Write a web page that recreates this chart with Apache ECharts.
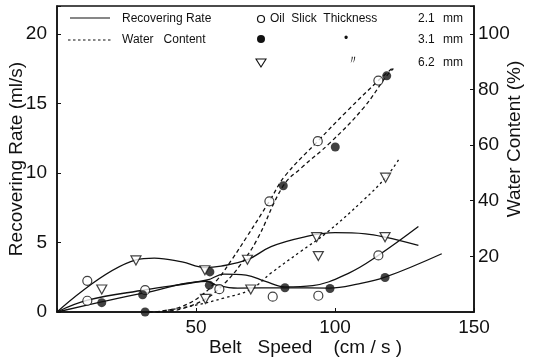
<!DOCTYPE html>
<html>
<head>
<meta charset="utf-8">
<script src="https://cdn.jsdelivr.net/npm/echarts@6/dist/echarts.min.js"></script>
<style>
  html, body { margin: 0; padding: 0; background: #fff; }
  #chart { width: 534px; height: 362px; }
</style>
</head>
<body>
<div id="chart"></div>
<script>
// belt speed (cm/s) vs recovering rate (ml/s) -- solid curves
const rate21Curve = [[0,0],[11,0.85],[32,1.6],[54,2.3],[60,2.72],[68,2.65],[75,2.2],[82,1.8],[92,1.9],[105,2.8],[115.6,4.07],[130,6.14]]
const rate31Curve = [[0,0],[16,0.72],[31,1.35],[54,2.2],[57,1.95],[65,1.72],[82,1.74],[98,1.72],[108,2.0],[118,2.5],[138.4,4.19]]
const rate62Curve = [[0,0],[28.4,3.75],[35,3.88],[45,3.6],[53,3.2],[59,3.3],[68.5,3.76],[77,4.7],[88,5.35],[100,5.7],[111,5.62],[118,5.38],[130,4.79]]

// water content (%) -- dashed curves
const water21Curve = [[33,0],[38,0.4],[45,2],[52,6],[58,12],[63,19],[68.2,26.9],[76.4,39.8],[82,48.9],[93.8,61.4],[104.2,72.1],[115.6,83.2],[120.4,87.4]]
const water31Curve = [[33,0],[40,0.3],[46,1.5],[54,5],[60,10],[66,17],[71.8,25.7],[81.4,45.4],[88,51.9],[98.2,60.8],[110.2,73.3],[118.6,84.9],[121,87.5]]
const water62Curve = [[36,0],[50,2.5],[60,5],[69.7,8.1],[77,14],[88,22],[97,28.5],[110,40],[118.2,48.3],[123.4,55.5]]

// measured points
const open21Rate = [[10.9,2.24],[10.9,0.81],[31.7,1.57],[58.4,1.64],[77.6,1.1],[94,1.17],[115.6,4.07]]
const open21Water = [[76.4,39.8],[93.8,61.4],[115.6,83.2]]
const filled31Rate = [[16.1,0.67],[30.8,1.24],[55,2.88],[54.8,1.93],[82,1.74],[98.2,1.69],[118,2.48]]
const filled31Water = [[31.7,0],[81.4,45.4],[100.1,59.3],[118.6,84.9]]
const tri62Rate = [[16.1,1.62],[28.4,3.71],[53.2,3.0],[68.5,3.76],[93.4,5.38],[118,5.38]]
const tri62Water = [[53.4,4.7],[69.7,8.1],[94,20.1],[118.2,48.3]]

const FONT = 'Liberation Sans'
const INK = '#111'

const chart = echarts.init(document.getElementById('chart'))

function curve(data, yAxisIndex, dashed) {
  return {
    type: 'line', data, yAxisIndex, smooth: 0.4, symbol: 'none', silent: true,
    lineStyle: {color: INK, width: 1.3, type: dashed || 'solid'},
    z: 2,
  }
}

function points(data, yAxisIndex, kind) {
  const s = {
    type: 'scatter', data, yAxisIndex, symbolSize: 9, z: 3,
    itemStyle: {color: '#fff', borderColor: INK, borderWidth: 1.2},
  }
  if (kind === 'filled') s.itemStyle = {color: INK}
  if (kind === 'tri') {
    s.symbol = 'triangle'
    s.symbolRotate = 180
    s.symbolSize = [10, 9]
  }
  return s
}

const legendText = (x, y, text) => ({
  type: 'text', x, y,
  style: {text, font: '12px ' + FONT, fill: INK, verticalAlign: 'middle'},
})

const option = {
  animation: false,
  backgroundColor: '#fff',
  grid: {
    left: 57, right: 60, top: 6, bottom: 50,
    containLabel: false, outerBoundsMode: 'none',
    show: true, borderColor: INK, borderWidth: 1.5,
  },
  xAxis: {
    type: 'value', min: 0, max: 150, interval: 50,
    name: 'Belt   Speed    (cm / s )',
    nameLocation: 'middle', nameGap: 26, nameMoveOverlap: false,
    nameTextStyle: {fontFamily: FONT, fontSize: 19, color: INK, padding: [0, 0, 0, 80]},
    axisLine: {lineStyle: {color: INK, width: 1.5}},
    axisTick: {inside: true, length: 4, lineStyle: {color: INK}},
    axisLabel: {fontFamily: FONT, fontSize: 19, color: INK, margin: 6,
      formatter: v => (v === 0 ? '' : String(v))},
    splitLine: {show: false},
  },
  yAxis: [
    {
      type: 'value', min: 0, max: 22, interval: 5,
      name: 'Recovering Rate (ml/s)',
      nameLocation: 'middle', nameGap: 31, nameRotate: 90, nameMoveOverlap: false,
      nameTextStyle: {fontFamily: FONT, fontSize: 19, color: INK},
      axisLine: {show: true, lineStyle: {color: INK, width: 1.5}},
      axisTick: {inside: true, length: 4, lineStyle: {color: INK}},
      axisLabel: {fontFamily: FONT, fontSize: 19, color: INK, margin: 10,
        formatter: v => (v % 5 === 0 ? String(v) : '')},
      splitLine: {show: false},
    },
    {
      type: 'value', min: 0, max: 110, interval: 20, position: 'right',
      name: 'Water Content (%)',
      nameLocation: 'middle', nameGap: 31, nameRotate: 90, nameMoveOverlap: false,
      nameTextStyle: {fontFamily: FONT, fontSize: 19, color: INK, padding: [0, 0, 0, 40]},
      axisLine: {show: true, lineStyle: {color: INK, width: 1.5}},
      axisTick: {inside: true, length: 4, lineStyle: {color: INK}},
      axisLabel: {fontFamily: FONT, fontSize: 19, color: INK, margin: 4,
        formatter: v => (v > 0 && v % 20 === 0 ? String(v) : '')},
      splitLine: {show: false},
    },
  ],
  graphic: [
    {type: 'line', shape: {x1: 70, y1: 18, x2: 110, y2: 18}, style: {stroke: INK, lineWidth: 1.2}},
    legendText(122, 19, 'Recovering Rate'),
    {type: 'line', shape: {x1: 68, y1: 40, x2: 112, y2: 40}, style: {stroke: INK, lineWidth: 1.1, lineDash: [2.5, 2.5]}},
    legendText(122, 40, 'Water   Content'),
    {type: 'circle', shape: {cx: 261, cy: 19, r: 3.5}, style: {fill: '#fff', stroke: INK, lineWidth: 1.2}},
    legendText(270, 19, 'Oil  Slick  Thickness'),
    legendText(418, 19, '2.1'),
    legendText(443, 19, 'mm'),
    {type: 'circle', shape: {cx: 261, cy: 39, r: 4}, style: {fill: INK}},
    legendText(344, 39, '\u2022'),
    legendText(418, 40, '3.1'),
    legendText(443, 40, 'mm'),
    {type: 'polygon', shape: {points: [[256, 59], [266, 59], [261, 67]]}, style: {fill: '#fff', stroke: INK, lineWidth: 1.1}},
    legendText(347, 61, '\u3003'),
    legendText(418, 63, '6.2'),
    legendText(443, 63, 'mm'),
  ],
  series: [
    curve(rate21Curve, 0),
    curve(rate31Curve, 0),
    curve(rate62Curve, 0),
    curve(water21Curve, 1, [4, 3]),
    curve(water31Curve, 1, [4, 3]),
    curve(water62Curve, 1, [2.5, 3]),
    points(open21Rate, 0, 'open'),
    points(open21Water, 1, 'open'),
    points(filled31Rate, 0, 'filled'),
    points(filled31Water, 1, 'filled'),
    points(tri62Rate, 0, 'tri'),
    points(tri62Water, 1, 'tri'),
  ],
}

chart.setOption(option)
</script>
</body>
</html>
